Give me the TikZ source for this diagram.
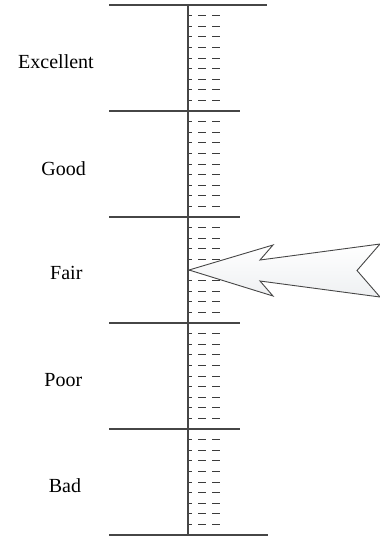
\documentclass[tikz,border=0pt]{standalone}
\usepackage{fontspec}
\setmainfont{Liberation Serif}
\usepackage{tikz}
\usepackage{xcolor}
\usetikzlibrary{positioning, calc}
\definecolor{scaleInk}{RGB}{70,70,70}
\definecolor{scaleTick}{RGB}{60,60,60}
\definecolor{scaleFill}{RGB}{238,240,242}

\begin{document}
\begin{tikzpicture}[
      x=1pt, y=-1pt,
      grade/.style={anchor=base, inner sep=0pt, font=\fontsize{20}{24}\selectfont, text=black},
      rule/.style={draw=scaleInk, line width=1.2pt},
      tick/.style={draw=scaleTick, line width=0.9pt, dash pattern=on 7.5pt off 6.5pt, dash phase=4pt},
      pointer/.style={draw=scaleInk, line width=0.9pt, line join=miter, top color=white, bottom color=scaleFill}
    ]
    \useasboundingbox (0,0) rectangle (380,539);

    % band borders and axis
    \coordinate (axtop) at (188,5);
    \coordinate (axbot) at (188,535);
    \draw[rule] (109,5) -- (267,5);
    \draw[rule] (109,111) -- (240,111);
    \draw[rule] (109,217) -- (240,217);
    \draw[rule] (109,323) -- (240,323);
    \draw[rule] (109,429) -- (240,429);
    \draw[rule] (109,535) -- (268,535);

    % dashed graduation marks
    \foreach \k in {1,...,49} {
      \pgfmathtruncatemacro{\r}{mod(\k,10)}
      \ifnum\r>0
        \draw[tick] (188,5+10.6*\k) -- (220,5+10.6*\k);
      \fi
    }
    \draw[rule] (axtop) -- (axbot);

    % grade labels
    \node[grade] (excellent) at (56,68) {Excellent};
    \node[grade] (good) at (63.7,175) {Good};
    \node[grade] (fair) at (66.3,279) {Fair};
    \node[grade] (poor) at (63.3,386) {Poor};
    \node[grade] (bad) at (65,492) {Bad};

    % pointer
    \coordinate (tip) at (189,270);
    \draw[pointer] (tip) -- (273,245) -- (260,260) -- (380,244) -- (357,270.5)
      -- (380,297) -- (260,281) -- (273,296) -- cycle;
  \end{tikzpicture}
\end{document}
